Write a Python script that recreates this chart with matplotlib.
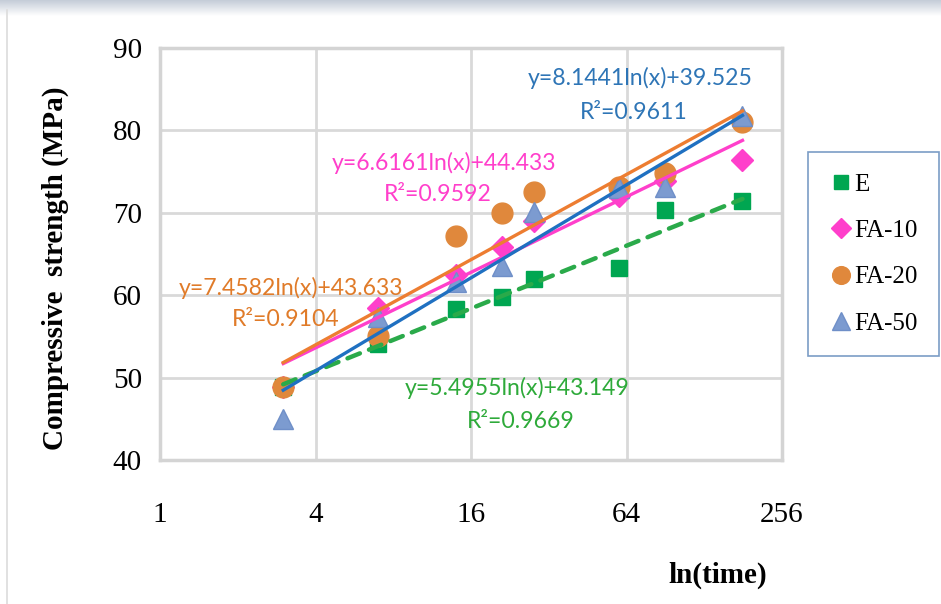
import numpy as np
import matplotlib
matplotlib.use("Agg")
import matplotlib.pyplot as plt
from matplotlib.lines import Line2D

# curing age (days) and compressive strength (MPa)
days = [3, 7, 14, 21, 28, 60, 90, 180]
e_vals = [48.9, 54.1, 58.3, 59.8, 62.0, 63.3, 70.3, 71.4]
fa10_vals = [48.8, 58.5, 62.5, 65.9, 69.0, 72.0, 73.8, 76.4]
fa20_vals = [48.8, 55.1, 67.2, 70.0, 72.5, 73.1, 74.8, 81.0]
fa50_vals = [45.0, 57.3, 61.6, 63.5, 70.1, 73.0, 73.1, 81.8]

# log trendline coefficients (slope, intercept, R2) as printed on the chart
fits = {
    "E": (5.4955, 43.149, 0.9669),
    "FA-10": (6.6161, 44.433, 0.9592),
    "FA-20": (7.4582, 43.633, 0.9104),
    "FA-50": (8.1441, 39.525, 0.9611),
}

W, H = 941, 604
fig = plt.figure(figsize=(W / 100, H / 100), dpi=100)

# screenshot frame: grey gradient strip on top and thin left border
grad = np.linspace(0, 1, 64).reshape(-1, 1)
bar = fig.add_axes([0, 1 - 16 / H, 1, 16 / H])
bar.imshow(grad, aspect="auto", cmap=matplotlib.colors.LinearSegmentedColormap.from_list(
    "g", ["#c4ccd8", "#ffffff"]), extent=[0, 1, 0, 1])
bar.axis("off")
fig.add_artist(Line2D([7 / W, 7 / W], [0, 1 - 10 / H], transform=fig.transFigure,
                      color="#dcdcdc", lw=1.2))

ax = fig.add_axes([160 / W, (H - 460) / H, (782 - 160) / W, (460 - 48) / H])
ax.set_xscale("log", base=2)
ax.set_xlim(1, 256)
ax.set_ylim(40, 90)
ax.set_xticks([1, 4, 16, 64, 256])
ax.set_xticklabels(["1", "4", "16", "64", "256"])
ax.set_yticks([40, 50, 60, 70, 80, 90])
ax.minorticks_off()
ax.tick_params(length=0, labelsize=21, pad=13)
ax.tick_params(axis="x", pad=30)
for lab in ax.get_xticklabels() + ax.get_yticklabels():
    lab.set_family("Liberation Serif")
ax.grid(True, color="#d9d9d9", lw=2)
ax.set_axisbelow(True)
for s in ax.spines.values():
    s.set_color("#d4d4d4")
    s.set_linewidth(2.5)

series = [
    ("E", e_vals, "s", "#00a651", "#00a651", 12, "#2aaa4a", "--"),
    ("FA-10", fa10_vals, "D", "#ff3fcb", "#ff3fcb", 11.5, "#ff3fcb", "-"),
    ("FA-20", fa20_vals, "o", "#e0883c", "#e0883c", 15, "#ed7d31", "-"),
    ("FA-50", fa50_vals, "^", "#7c9bd0", "#6f8fc8", 15, "#1f70c1", "-"),
]

for name, vals, mk, fc, ec, ms, lc, ls in series:
    ax.plot(days, vals, linestyle="none", marker=mk, markersize=ms,
            markerfacecolor=fc, markeredgecolor=ec, label=name, zorder=3)
for name, vals, mk, fc, ec, ms, lc, ls in series:
    a, b, r2 = fits[name]
    xt = np.geomspace(days[0], days[-1], 50)
    yt = a * np.log(xt) + b
    if ls == "--":
        ax.plot(xt, yt, color=lc, lw=3.2, ls=(0, (3, 2.2)), zorder=4,
                dash_capstyle="round")
    else:
        ax.plot(xt, yt, color=lc, lw=2.4, zorder=4)

# trendline equation labels
lab_font = dict(family="Lato", fontsize=16.6)
def eq_label(x_eq, y_eq, x_r, y_r, name, color):
    a, b, r2 = fits[name]
    fig.text(x_eq / W, 1 - y_eq / H, f"y={a:.4f}ln(x)+{b:.3f}", color=color,
             ha="center", va="center", **lab_font)
    fig.text(x_r / W, 1 - y_r / H, f"R\u00b2={r2:.4f}", color=color,
             ha="center", va="center", **lab_font)

eq_label(640, 78, 634, 112, "FA-50", "#2e75b6")
eq_label(444, 163, 438, 195, "FA-10", "#ff3fcb")
eq_label(291, 288, 286, 320, "FA-20", "#e07b29")
eq_label(517, 388, 521, 422, "E", "#2eaa3a")

# axis titles
fig.text(55 / W, 1 - 268 / H, "Compressive  strength (MPa)", rotation=90,
         ha="center", va="center", family="Liberation Serif", fontweight="bold",
         fontsize=21)
fig.text(718 / W, 1 - 575 / H, "ln(time)", ha="center", va="center",
         family="Liberation Serif", fontweight="bold", fontsize=21)

# legend box
leg = fig.legend(loc="upper left", bbox_to_anchor=(808 / W, 1 - 152 / H),
                 bbox_transform=fig.transFigure, frameon=True, fancybox=False,
                 prop={"family": "Liberation Serif", "size": 18},
                 handlelength=0.9, handletextpad=0.1, labelspacing=0.95,
                 borderpad=0.85, borderaxespad=0, markerscale=0.85)
leg.get_frame().set_edgecolor("#5b84b8")
leg.get_frame().set_linewidth(1.2)

fig.savefig("out.png", dpi=100)
